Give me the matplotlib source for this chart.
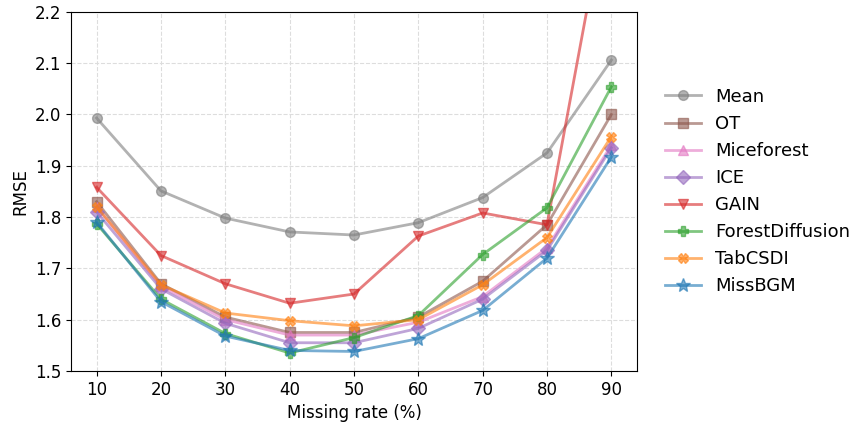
import matplotlib
matplotlib.use("Agg")
import matplotlib.pyplot as plt

missing_rates = [10, 20, 30, 40, 50, 60, 70, 80, 90]
mean_vals = [1.993, 1.851, 1.798, 1.771, 1.765, 1.789, 1.838, 1.925, 2.106]
ot_vals = [1.830, 1.670, 1.605, 1.575, 1.575, 1.605, 1.675, 1.785, 2.000]
miceforest_vals = [1.820, 1.665, 1.600, 1.570, 1.570, 1.595, 1.645, 1.740, 1.940]
ice_vals = [1.810, 1.660, 1.593, 1.555, 1.555, 1.583, 1.640, 1.735, 1.935]
gain_vals = [1.858, 1.725, 1.670, 1.632, 1.650, 1.763, 1.808, 1.785, 2.460]
forest_vals = [1.787, 1.640, 1.573, 1.535, 1.565, 1.608, 1.727, 1.818, 2.054]
tabcsdi_vals = [1.820, 1.668, 1.613, 1.598, 1.588, 1.600, 1.668, 1.760, 1.957]
missbgm_vals = [1.790, 1.635, 1.568, 1.540, 1.538, 1.563, 1.618, 1.720, 1.917]

series = [
    ("Mean", mean_vals, "tab:gray", "o"),
    ("OT", ot_vals, "tab:brown", "s"),
    ("Miceforest", miceforest_vals, "tab:pink", "^"),
    ("ICE", ice_vals, "tab:purple", "D"),
    ("GAIN", gain_vals, "tab:red", "v"),
    ("ForestDiffusion", forest_vals, "tab:green", "P"),
    ("TabCSDI", tabcsdi_vals, "tab:orange", "X"),
    ("MissBGM", missbgm_vals, "tab:blue", "*"),
]

fig = plt.figure(figsize=(8.54, 4.23), dpi=100)
ax = fig.add_axes([0.083, 0.123, 0.663, 0.849])
for name, vals, color, marker in series:
    ms = 10 if marker == "*" else 7
    ax.plot(missing_rates, vals, color=color, marker=marker, label=name,
            linewidth=2, markersize=ms, alpha=0.6)

ax.set_xlim(6, 94)
ax.set_ylim(1.5, 2.2)
ax.set_xticks(missing_rates)
ax.set_yticks([1.5, 1.6, 1.7, 1.8, 1.9, 2.0, 2.1, 2.2])
ax.grid(True, linestyle="--", color="#dddddd", linewidth=0.8)
ax.tick_params(labelsize=12)
ax.set_xlabel("Missing rate (%)", fontsize=12)
ax.set_ylabel("RMSE", fontsize=12)
ax.legend(loc="center left", bbox_to_anchor=(1.02, 0.5), frameon=False, fontsize=13)

fig.savefig("out.png", dpi=100)
